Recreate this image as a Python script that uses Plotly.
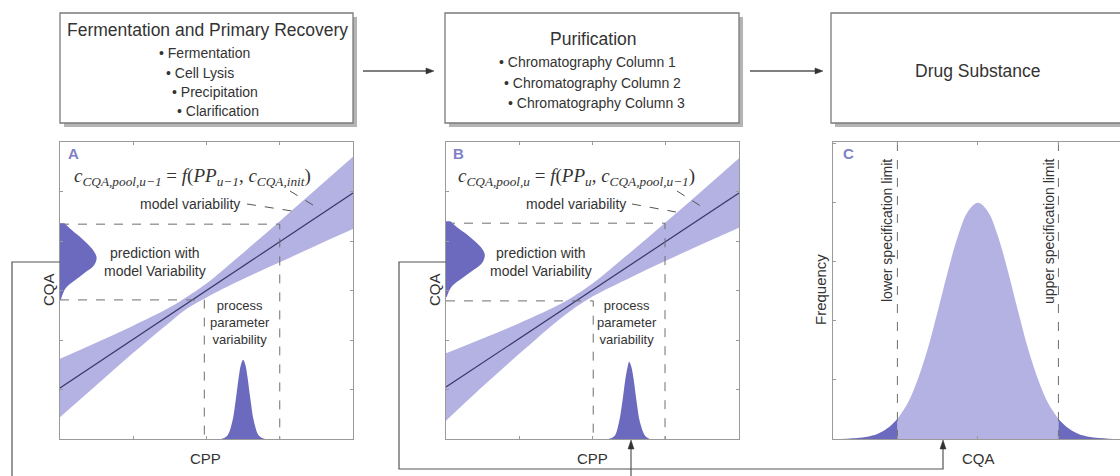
import plotly.graph_objects as go

W, H = 1120, 476

# ---------------- data ----------------
cpp_grid = [0, 0.5, 1, 1.5, 1.75, 2, 2.5, 3, 3.5, 4]

# Panel A
a_fit_x = [0, 4]
a_fit_y = [1.03, 4.97]
a_band_upper = [1.62, 1.95, 2.29, 2.66, 2.89, 3.14, 3.76, 4.40, 5.05, 5.70]
a_band_lower = [0.44, 1.09, 1.74, 2.36, 2.65, 2.86, 3.23, 3.57, 3.91, 4.24]
a_guide_hi = (3.0, 4.34)   # (CPP, CQA)
a_guide_lo = (1.97, 2.81)
a_pred_y = [4.36, 4.25, 4.10, 3.95, 3.80, 3.66, 3.50, 3.35, 3.20, 3.05, 2.90, 2.81]
a_pred_w = [0.06, 0.14, 0.26, 0.37, 0.46, 0.50, 0.46, 0.33, 0.20, 0.08, 0.03, 0.01]
a_pp_x = [2.20, 2.28, 2.35, 2.40, 2.44, 2.47, 2.50, 2.53, 2.56, 2.60, 2.65, 2.72, 2.80]
a_pp_y = [0.0, 0.06, 0.34, 0.80, 1.25, 1.50, 1.60, 1.50, 1.25, 0.80, 0.34, 0.06, 0.0]

# Panel B
b_fit_x = [0, 4]
b_fit_y = [1.05, 4.97]
b_band_upper = [1.73, 2.03, 2.34, 2.68, 2.89, 3.14, 3.75, 4.38, 5.02, 5.67]
b_band_lower = [0.37, 1.06, 1.72, 2.36, 2.64, 2.88, 3.25, 3.60, 3.94, 4.27]
b_guide_hi = (2.99, 4.36)
b_guide_lo = (2.01, 2.79)
b_pred_y = [4.40, 4.28, 4.15, 4.00, 3.85, 3.72, 3.55, 3.40, 3.25, 3.10, 2.95, 2.87]
b_pred_w = [0.06, 0.15, 0.27, 0.39, 0.49, 0.53, 0.49, 0.36, 0.22, 0.09, 0.03, 0.01]
b_pp_x = [2.22, 2.30, 2.36, 2.41, 2.45, 2.48, 2.50, 2.53, 2.56, 2.60, 2.65, 2.72, 2.78]
b_pp_y = [0.0, 0.06, 0.33, 0.78, 1.22, 1.46, 1.56, 1.46, 1.22, 0.78, 0.33, 0.06, 0.0]

# Panel C
c_x = [-3.6, -3.25, -3.0, -2.75, -2.5, -2.25, -2.0, -1.75, -1.5, -1.25, -1.0, -0.75, -0.5, -0.25, 0,
       0.25, 0.5, 0.75, 1.0, 1.25, 1.5, 1.75, 2.0, 2.25, 2.5, 2.75, 3.0, 3.25, 3.53]
c_y = [0.001, 0.006, 0.015, 0.038, 0.084, 0.18, 0.34, 0.60, 1.00, 1.52, 2.16, 2.83, 3.43, 3.85, 4.0,
       3.85, 3.43, 2.83, 2.16, 1.52, 1.00, 0.60, 0.34, 0.18, 0.084, 0.038, 0.015, 0.006, 0.002]
lsl, usl = -2.0, 2.0

box_titles = ["Fermentation and Primary Recovery", "Purification", "Drug Substance"]
box1_items = ["Fermentation", "Cell Lysis", "Precipitation", "Clarification"]
box2_items = ["Chromatography Column 1", "Chromatography Column 2", "Chromatography Column 3"]

# ---------------- styles ----------------
BAND = "rgb(180,178,226)"
DIST = "rgb(108,106,190)"
LINE = "rgb(55,55,105)"
GUIDE = "rgb(110,110,110)"
TXT = "#333333"
SANS = "Liberation Sans, Arial, sans-serif"
SERIF = "Liberation Serif, DejaVu Serif, serif"


def px(x):
    return x / W


def py(y):
    return 1 - y / H


fig = go.Figure()


def add_panel(ax, fx, fy, grid, up, lo, ghi, glo, pred_y, pred_w, pp_x, pp_y):
    xa, ya = "x" + ax, "y" + ax
    fig.add_trace(go.Scatter(x=grid, y=lo, mode="lines", line=dict(width=0, shape="spline"),
                             xaxis=xa, yaxis=ya, hoverinfo="skip"))
    fig.add_trace(go.Scatter(x=grid, y=up, mode="lines", line=dict(width=0, shape="spline"),
                             fill="tonexty", fillcolor=BAND, xaxis=xa, yaxis=ya, hoverinfo="skip"))
    fig.add_trace(go.Scatter(x=fx, y=fy, mode="lines", line=dict(color=LINE, width=1.2),
                             xaxis=xa, yaxis=ya))
    for gx, gy in (ghi, glo):
        fig.add_trace(go.Scatter(x=[0, gx, gx], y=[gy, gy, 0], mode="lines",
                                 line=dict(color=GUIDE, width=1, dash="dash"),
                                 xaxis=xa, yaxis=ya))
    fig.add_trace(go.Scatter(x=pred_w, y=pred_y, mode="lines", line=dict(width=0, shape="spline"),
                             fill="tozerox", fillcolor=DIST, xaxis=xa, yaxis=ya))
    fig.add_trace(go.Scatter(x=pp_x, y=pp_y, mode="lines", line=dict(width=0, shape="spline"),
                             fill="tozeroy", fillcolor=DIST, xaxis=xa, yaxis=ya))


add_panel("", a_fit_x, a_fit_y, cpp_grid, a_band_upper, a_band_lower, a_guide_hi, a_guide_lo,
          a_pred_y, a_pred_w, a_pp_x, a_pp_y)
add_panel("2", b_fit_x, b_fit_y, cpp_grid, b_band_upper, b_band_lower, b_guide_hi, b_guide_lo,
          b_pred_y, b_pred_w, b_pp_x, b_pp_y)

# Panel C
left = [(x, y) for x, y in zip(c_x, c_y) if x <= lsl]
mid = [(x, y) for x, y in zip(c_x, c_y) if lsl <= x <= usl]
right = [(x, y) for x, y in zip(c_x, c_y) if x >= usl]
for part, col in ((mid, BAND), (left, DIST), (right, DIST)):
    fig.add_trace(go.Scatter(x=[p[0] for p in part], y=[p[1] for p in part], mode="lines",
                             line=dict(width=0, shape="spline"), fill="tozeroy", fillcolor=col,
                             xaxis="x3", yaxis="y3"))
for lim in (lsl, usl):
    fig.add_trace(go.Scatter(x=[lim, lim], y=[0, 5.03], mode="lines",
                             line=dict(color=GUIDE, width=1, dash="dash"), xaxis="x3", yaxis="y3"))

ax_common = dict(showgrid=False, zeroline=False, showticklabels=False, showline=True,
                 linecolor="#9a9a9a", linewidth=1, ticks="inside", ticklen=3, tickcolor="#9a9a9a",
                 fixedrange=True)
yA = [py(439), py(142)]
fig.update_layout(
    xaxis=dict(domain=[px(60), px(353)], range=[0, 4], dtick=1, anchor="y", mirror="ticks", **ax_common),
    yaxis=dict(domain=yA, range=[0, 6], dtick=1, anchor="x", mirror="ticks", **ax_common),
    xaxis2=dict(domain=[px(446), px(739)], range=[0, 4], dtick=1, anchor="y2", mirror="ticks", **ax_common),
    yaxis2=dict(domain=yA, range=[0, 6], dtick=1, anchor="x2", mirror="ticks", **ax_common),
    xaxis3=dict(domain=[px(833), 1.0], range=[-3.6, 3.53], tickvals=[-2, 0, 2], anchor="y3",
                mirror="ticks", **ax_common),
    yaxis3=dict(domain=yA, range=[0, 5.03], dtick=1, anchor="x3", mirror=False, **ax_common),
)

shapes = []
annots = []


def pline(points, color="#555", width=1.2, dash=None):
    path = "M " + " L ".join(f"{px(x)},{py(y)}" for x, y in points)
    ln = dict(color=color, width=width)
    if dash:
        ln["dash"] = dash
    shapes.append(dict(type="path", xref="paper", yref="paper", path=path, line=ln, layer="above"))


def head(points, color="#333"):
    path = "M " + " L ".join(f"{px(x)},{py(y)}" for x, y in points) + " Z"
    shapes.append(dict(type="path", xref="paper", yref="paper", path=path, fillcolor=color,
                       line=dict(color=color, width=0.5), layer="above"))


# Boxes with shadows
for (x0, x1) in ((60, 353), (445, 739), (831, 1130)):
    shapes.append(dict(type="rect", xref="paper", yref="paper", x0=px(x0 + 4), x1=px(x1 + 4),
                       y0=py(127), y1=py(17), fillcolor="#b4b4b4", line=dict(width=0), layer="above"))
    shapes.append(dict(type="rect", xref="paper", yref="paper", x0=px(x0), x1=px(x1),
                       y0=py(123), y1=py(13), fillcolor="white", line=dict(color="#7a7a7a", width=1.3),
                       layer="above"))

# Box texts
annots.append(dict(x=px(207), y=py(30), text=box_titles[0], font=dict(size=17.5)))
for item, xl, yl in zip(box1_items, [157, 164, 170, 175], [53, 73, 92, 111]):
    annots.append(dict(x=px(xl), y=py(yl), text="• " + item, xanchor="left", font=dict(size=14)))
annots.append(dict(x=px(593), y=py(39), text=box_titles[1], font=dict(size=17.5)))
for item, xl, yl in zip(box2_items, [497, 502, 506], [62, 83, 103]):
    annots.append(dict(x=px(xl), y=py(yl), text="• " + item, xanchor="left", font=dict(size=14)))
annots.append(dict(x=px(978), y=py(71), text=box_titles[2], font=dict(size=17.5)))

# Flow arrows between boxes
for x0, tip in ((363, 434), (750, 823)):
    pline([(x0, 71), (tip - 6, 71)], color="#555", width=1.3)
    head([(tip, 71), (tip - 8, 68), (tip - 8, 74)])

# Connectors
pline([(60, 262), (12, 262), (12, 490)])
pline([(446, 262), (399, 262), (399, 469), (943, 469), (943, 447)])
head([(943, 440), (940, 449), (946, 449)])
pline([(631, 490), (631, 447)])
head([(631, 440), (628, 449), (634, 449)])

# Panel labels
for lab, x in (("A", 73), ("B", 458), ("C", 848)):
    annots.append(dict(x=px(x), y=py(154), text=f"<b>{lab}</b>",
                       font=dict(size=15, color="rgb(128,128,200)")))

# Formulas
annots.append(dict(x=px(192), y=py(177),
                   text="<i>c</i><sub><i>CQA,pool,u−1</i></sub> = <i>f</i>(<i>PP</i><sub><i>u−1</i></sub>, "
                        "<i>c</i><sub><i>CQA,init</i></sub>)",
                   font=dict(size=19, family=SERIF)))
annots.append(dict(x=px(577), y=py(177),
                   text="<i>c</i><sub><i>CQA,pool,u</i></sub> = <i>f</i>(<i>PP</i><sub><i>u</i></sub>, "
                        "<i>c</i><sub><i>CQA,pool,u−1</i></sub>)",
                   font=dict(size=19, family=SERIF)))

# Model variability + leaders
for cx, l1, l2 in ((190, (247, 204, 292, 211), (290, 191, 321, 210)),
                   (576, (632, 204, 676, 212), (677, 191, 707, 210))):
    annots.append(dict(x=px(cx), y=py(204), text="model variability", font=dict(size=14)))
    for (x0, y0, x1, y1) in (l1, l2):
        pline([(x0, y0), (x1, y1)], color="#555", width=1, dash="dash")

for cx in (155, 541):
    annots.append(dict(x=px(cx), y=py(262), text="prediction with<br>model Variability",
                       font=dict(size=14)))
for cx in (240, 627):
    annots.append(dict(x=px(cx), y=py(322), text="process<br>parameter<br>variability",
                       font=dict(size=13)))

# Axis titles
for cx in (205, 592):
    annots.append(dict(x=px(cx), y=py(458), text="CPP", font=dict(size=15)))
annots.append(dict(x=px(978), y=py(458), text="CQA", font=dict(size=15)))
for cx in (48, 434):
    annots.append(dict(x=px(cx), y=py(290), text="CQA", textangle=-90, font=dict(size=15)))
annots.append(dict(x=px(820), y=py(290), text="Frequency", textangle=-90, font=dict(size=15)))
annots.append(dict(x=px(887), y=py(231), text="lower specification limit", textangle=-90,
                   font=dict(size=14)))
annots.append(dict(x=px(1049), y=py(231), text="upper specification limit", textangle=-90,
                   font=dict(size=14)))

for a in annots:
    a.setdefault("xref", "paper")
    a.setdefault("yref", "paper")
    a.setdefault("showarrow", False)
    a.setdefault("xanchor", "center")
    a.setdefault("yanchor", "middle")
    a.setdefault("font", {})
    a["font"].setdefault("family", SANS)
    a["font"].setdefault("color", TXT)

fig.update_layout(
    width=W, height=H, margin=dict(l=0, r=0, t=0, b=0), autosize=False,
    paper_bgcolor="white", plot_bgcolor="white", showlegend=False,
    shapes=shapes, annotations=annots,
)

fig.write_html("out.html", config={"displayModeBar": False},
               post_script="document.body.style.margin='0';document.body.style.padding='0';")
